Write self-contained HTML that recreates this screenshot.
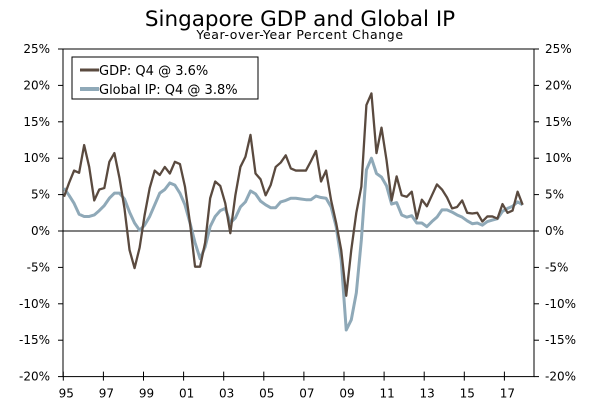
<!DOCTYPE html>
<html><head><meta charset="utf-8"><style>
body{margin:0;background:#fff;}
svg{display:block;font-family:"DejaVu Sans","Liberation Sans",sans-serif;}
</style></head><body>
<svg id="c" width="600" height="417">
<text x="300" y="26" text-anchor="middle" font-size="21.5" fill="#000">Singapore GDP and Global IP</text>
<text x="300" y="39" text-anchor="middle" font-size="12.5" letter-spacing="0.6" fill="#000">Year-over-Year Percent Change</text>
<g id="axes"></g>
<g id="series"></g>
<g>
<rect x="72" y="57" width="186" height="42" fill="#fff" stroke="#000" stroke-width="1"/>
<line x1="80" y1="70" x2="99" y2="70" stroke="#5a4a3f" stroke-width="3"/>
<text x="99" y="75" font-size="13">GDP: Q4 @ 3.6%</text>
<line x1="80" y1="89" x2="99" y2="89" stroke="#8fa9b8" stroke-width="4"/>
<text x="99" y="94" font-size="13">Global IP: Q4 @ 3.8%</text>
</g>
</svg>
<script>
const yTicks=[25,20,15,10,5,0,-5,-10,-15,-20];
const xTickLabels=["95","97","99","01","03","05","07","09","11","13","15","17"];
const gdp=[4.7,6.6,8.3,8.0,11.8,8.8,4.2,5.7,5.9,9.5,10.7,7.3,3.1,-2.6,-5.1,-2.3,2.2,5.9,8.3,7.7,8.8,7.9,9.5,9.2,6.1,1.1,-4.9,-4.9,-1.6,4.5,6.8,6.2,3.8,-0.3,4.9,8.8,10.2,13.2,7.9,7.1,4.9,6.3,8.8,9.4,10.4,8.6,8.3,8.3,8.3,9.6,11.0,6.8,8.3,4.2,1.1,-2.6,-8.9,-2.6,2.5,6.1,17.3,18.9,10.7,14.2,9.7,4.2,7.5,4.9,4.7,5.4,1.7,4.3,3.4,4.9,6.4,5.7,4.6,3.1,3.3,4.2,2.5,2.4,2.5,1.3,2.0,2.0,1.7,3.7,2.5,2.8,5.4,3.6];
const globalIP=[5.9,4.9,3.8,2.3,2.0,2.0,2.2,2.8,3.5,4.5,5.2,5.2,4.4,2.6,1.1,0.1,0.8,2.0,3.6,5.2,5.7,6.6,6.3,5.2,3.6,1.1,-1.6,-3.8,-2.2,0.6,2.0,2.8,3.1,1.1,1.8,3.3,4.0,5.5,5.1,4.1,3.6,3.2,3.2,4.0,4.2,4.5,4.5,4.4,4.3,4.3,4.8,4.6,4.5,3.3,0.6,-4.0,-13.6,-12.2,-8.5,-1.2,8.4,10.0,7.9,7.4,6.2,3.7,3.9,2.2,1.9,2.1,1.1,1.1,0.6,1.3,1.9,2.9,2.9,2.6,2.2,1.9,1.4,1.0,1.1,0.8,1.3,1.5,1.7,2.7,3.1,3.4,4.0,3.6];
const NS="http://www.w3.org/2000/svg";
const L=63,R=534,T=49,B=376.6;
function y(v){return T+(25-v)/45*(B-T);}
function xq(i){return 64+i*5.04;}
function xt(k){return 63.3+k*40.1;}
function mk(t,a,p){const e=document.createElementNS(NS,t);for(const k in a)e.setAttribute(k,a[k]);p.appendChild(e);return e;}
const ax=document.getElementById('axes');
mk('rect',{x:L,y:T,width:R-L,height:B-T,fill:'none',stroke:'#000','stroke-width':1},ax);
mk('line',{x1:L,y1:y(0),x2:R,y2:y(0),stroke:'#000','stroke-width':1},ax);
yTicks.forEach(v=>{
  mk('line',{x1:L-5,y1:y(v),x2:L,y2:y(v),stroke:'#000'},ax);
  mk('line',{x1:R,y1:y(v),x2:R+5,y2:y(v),stroke:'#000'},ax);
  const a=mk('text',{x:50,y:y(v)+4,'text-anchor':'end','font-size':12},ax);a.textContent=v+'%';
  
  
  const b=mk('text',{x:545,y:y(v)+4,'font-size':12},ax);b.textContent=v+'%';
  
  
});
xTickLabels.forEach((s,k)=>{
  mk('line',{x1:xt(k),y1:B-5,x2:xt(k),y2:B+4,stroke:'#000'},ax);
  const t=mk('text',{x:xt(k)+3,y:B+21,'text-anchor':'middle','font-size':12},ax);t.textContent=s;
  
  
});
const sg=document.getElementById('series');
function line(d,col,w,name){
  const p=mk('polyline',{points:d.map((v,i)=>xq(i)+','+y(v)).join(' '),fill:'none',stroke:col,'stroke-width':w,'stroke-linejoin':'round'},sg);
  
  
}
line(globalIP,'#8fa9b8',3,'global-ip-line');
line(gdp,'#5a4a3f',2.3,'gdp-line');
</script>
</body></html>
